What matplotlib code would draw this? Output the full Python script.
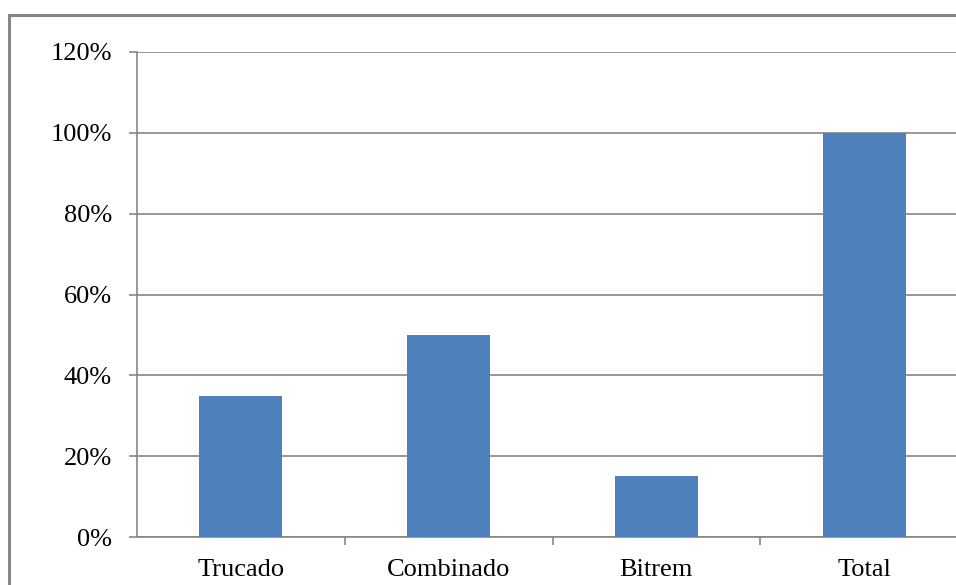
import matplotlib.pyplot as plt
from matplotlib.patches import Rectangle
from matplotlib.ticker import FixedLocator

categorias = ["Trucado", "Combinado", "Bitrem", "Total"]
valores = [35, 50, 15, 100]
marcas_y = [0, 20, 40, 60, 80, 100, 120]

plt.rcParams['font.family'] = ['Liberation Serif', 'DejaVu Serif']

fig = plt.figure(figsize=(9.56, 5.85), dpi=100)
W, H = 956, 585

# caixa cinza em volta do grafico
fig.patches.append(Rectangle((9 / W, -0.1), 1.2, 1 - 15 / H + 0.1,
                             transform=fig.transFigure, fill=False,
                             edgecolor="#878787", linewidth=2.2))

ax = fig.add_axes([137 / W, 1 - 537 / H, (968 - 137) / W, (537 - 52) / H])
ax.set_clip_on(False)

x = range(len(categorias))
ax.bar(x, valores, width=0.4, color="#4F81BD", zorder=3)

ax.set_xlim(-0.5, len(categorias) - 0.5)
ax.set_ylim(0, 120)
ax.set_yticks(marcas_y)
ax.set_yticklabels([f"{v}%" for v in marcas_y])
ax.grid(axis="y", color="#868686", linewidth=1.2, zorder=0)

ax.set_xticks(list(x))
ax.set_xticklabels(categorias)
ax.xaxis.set_minor_locator(FixedLocator([0.5, 1.5, 2.5]))
ax.tick_params(axis="x", which="major", length=0, pad=16, labelsize=19)
ax.tick_params(axis="x", which="minor", length=6, width=1.2, color="#868686")
ax.tick_params(axis="y", length=6, width=1.2, color="#868686", pad=12, labelsize=19)

for s in ["top", "right"]:
    ax.spines[s].set_visible(False)
for s in ["left", "bottom"]:
    ax.spines[s].set_color("#868686")
    ax.spines[s].set_linewidth(1.2)

fig.savefig("out.png", dpi=100)
